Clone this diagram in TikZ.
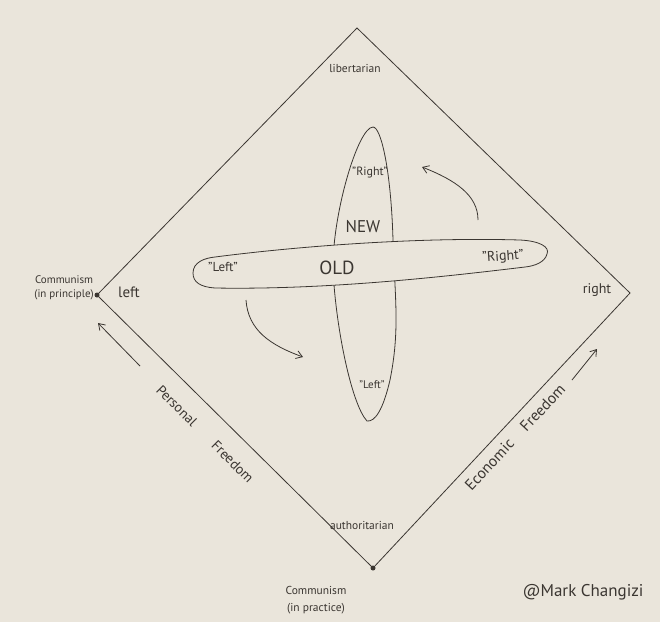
\documentclass[tikz,border=0pt]{standalone}
\usepackage{fontspec}
\setmainfont{PT Sans}
\usetikzlibrary{arrows.meta}
\definecolor{paper}{HTML}{EAE5DB}
\definecolor{pen}{HTML}{3B3631}

\begin{document}
\begin{tikzpicture}[x=1pt,y=-1pt,
  penline/.style={draw=pen, line width=0.8pt},
  hand/.style={text=pen, inner sep=1pt},
  spot/.style={circle, fill=pen, inner sep=0pt, minimum size=5pt},
  swing/.style={penline, -{Straight Barb[length=6pt,width=8pt]}}]
\useasboundingbox (0,0) rectangle (660,622);
\fill[paper] (0,0) rectangle (660,622);

% the diamond
\coordinate (toppt) at (357,28);
\coordinate (rightpt) at (630,293);
\node[spot] (leftpt) at (97,295) {};
\node[spot] (bottompt) at (373,568) {};
\draw[penline] (toppt) -- (rightpt) -- (bottompt.center) -- (leftpt.center) -- cycle;

% NEW axis, behind the old one
\draw[penline] (373,127) .. controls (381,127) and (391,170) .. (393,240)
  .. controls (395,300) and (400,330) .. (390,380)
  .. controls (383,410) and (375,422) .. (367,421)
  .. controls (352,405) and (336,330) .. (333,270)
  .. controls (332,215) and (358,127) .. (373,127) -- cycle;

% OLD axis
\draw[penline, fill=paper] (193,273) .. controls (193,262) and (205,258) .. (215,257)
  .. controls (300,246) and (420,237) .. (520,240)
  .. controls (540,241) and (550,247) .. (547,254)
  .. controls (545,262) and (535,266) .. (525,267)
  .. controls (450,276) and (330,290) .. (215,288)
  .. controls (200,287) and (193,282) .. (193,273) -- cycle;

% corner labels
\node[hand, font=\fontsize{11.5}{12}\selectfont] (libl) at (355,68) {libertarian};
\node[hand, font=\fontsize{11.5}{12}\selectfont] (autl) at (362,525) {authoritarian};
\node[hand, font=\fontsize{15}{16}\selectfont] (leftl) at (129,292) {left};
\node[hand, font=\fontsize{14}{15}\selectfont] (rightl) at (597,290) {right};
\node[hand, font=\fontsize{11}{14}\selectfont, align=center, anchor=east] (compr) at (95,288) {Communism\\(in principle)};
\node[hand, font=\fontsize{11.5}{17}\selectfont, align=center] (compa) at (316,600) {Communism\\(in practice)};

% labels on the two axes
\node[hand, font=\fontsize{19}{20}\selectfont] (oldl) at (337,268) {OLD};
\node[hand, font=\fontsize{17}{18}\selectfont] (newl) at (363,227) {NEW};
\node[hand, font=\fontsize{13}{14}\selectfont] (oldleft) at (223,267) {"Left"};
\node[hand, font=\fontsize{14}{15}\selectfont, rotate=4] (oldright) at (503,257) {"Right"};
\node[hand, font=\fontsize{12}{13}\selectfont] (newright) at (370,173) {"Right"};
\node[hand, font=\fontsize{11}{12}\selectfont] (newleft) at (372,385) {"Left"};

% freedom labels along the lower edges
\node[hand, font=\fontsize{14}{15}\selectfont, rotate=-45] (persl) at (205,434) {Personal\hspace{27pt}Freedom};
\node[hand, font=\fontsize{15.5}{17}\selectfont, rotate=47] (econl) at (515,437) {Economic\hspace{17pt}Freedom};

\node[hand, font=\fontsize{17}{18}\selectfont] (sign) at (583,592) {@Mark Changizi};

% arrows
\coordinate (pfa) at (140,366);
\coordinate (pfb) at (98,323);
\draw[swing] (pfa) -- (pfb);
\coordinate (efa) at (572,380);
\coordinate (efb) at (597,349);
\draw[swing] (efa) -- (efb);
\coordinate (upa) at (478,220);
\coordinate (upb) at (422,167);
\draw[swing] (upa) .. controls (478,195) and (455,180) .. (upb);
\coordinate (dna) at (246,300);
\coordinate (dnb) at (303,357);
\draw[swing] (dna) .. controls (248,330) and (270,345) .. (dnb);
\end{tikzpicture}
\end{document}
